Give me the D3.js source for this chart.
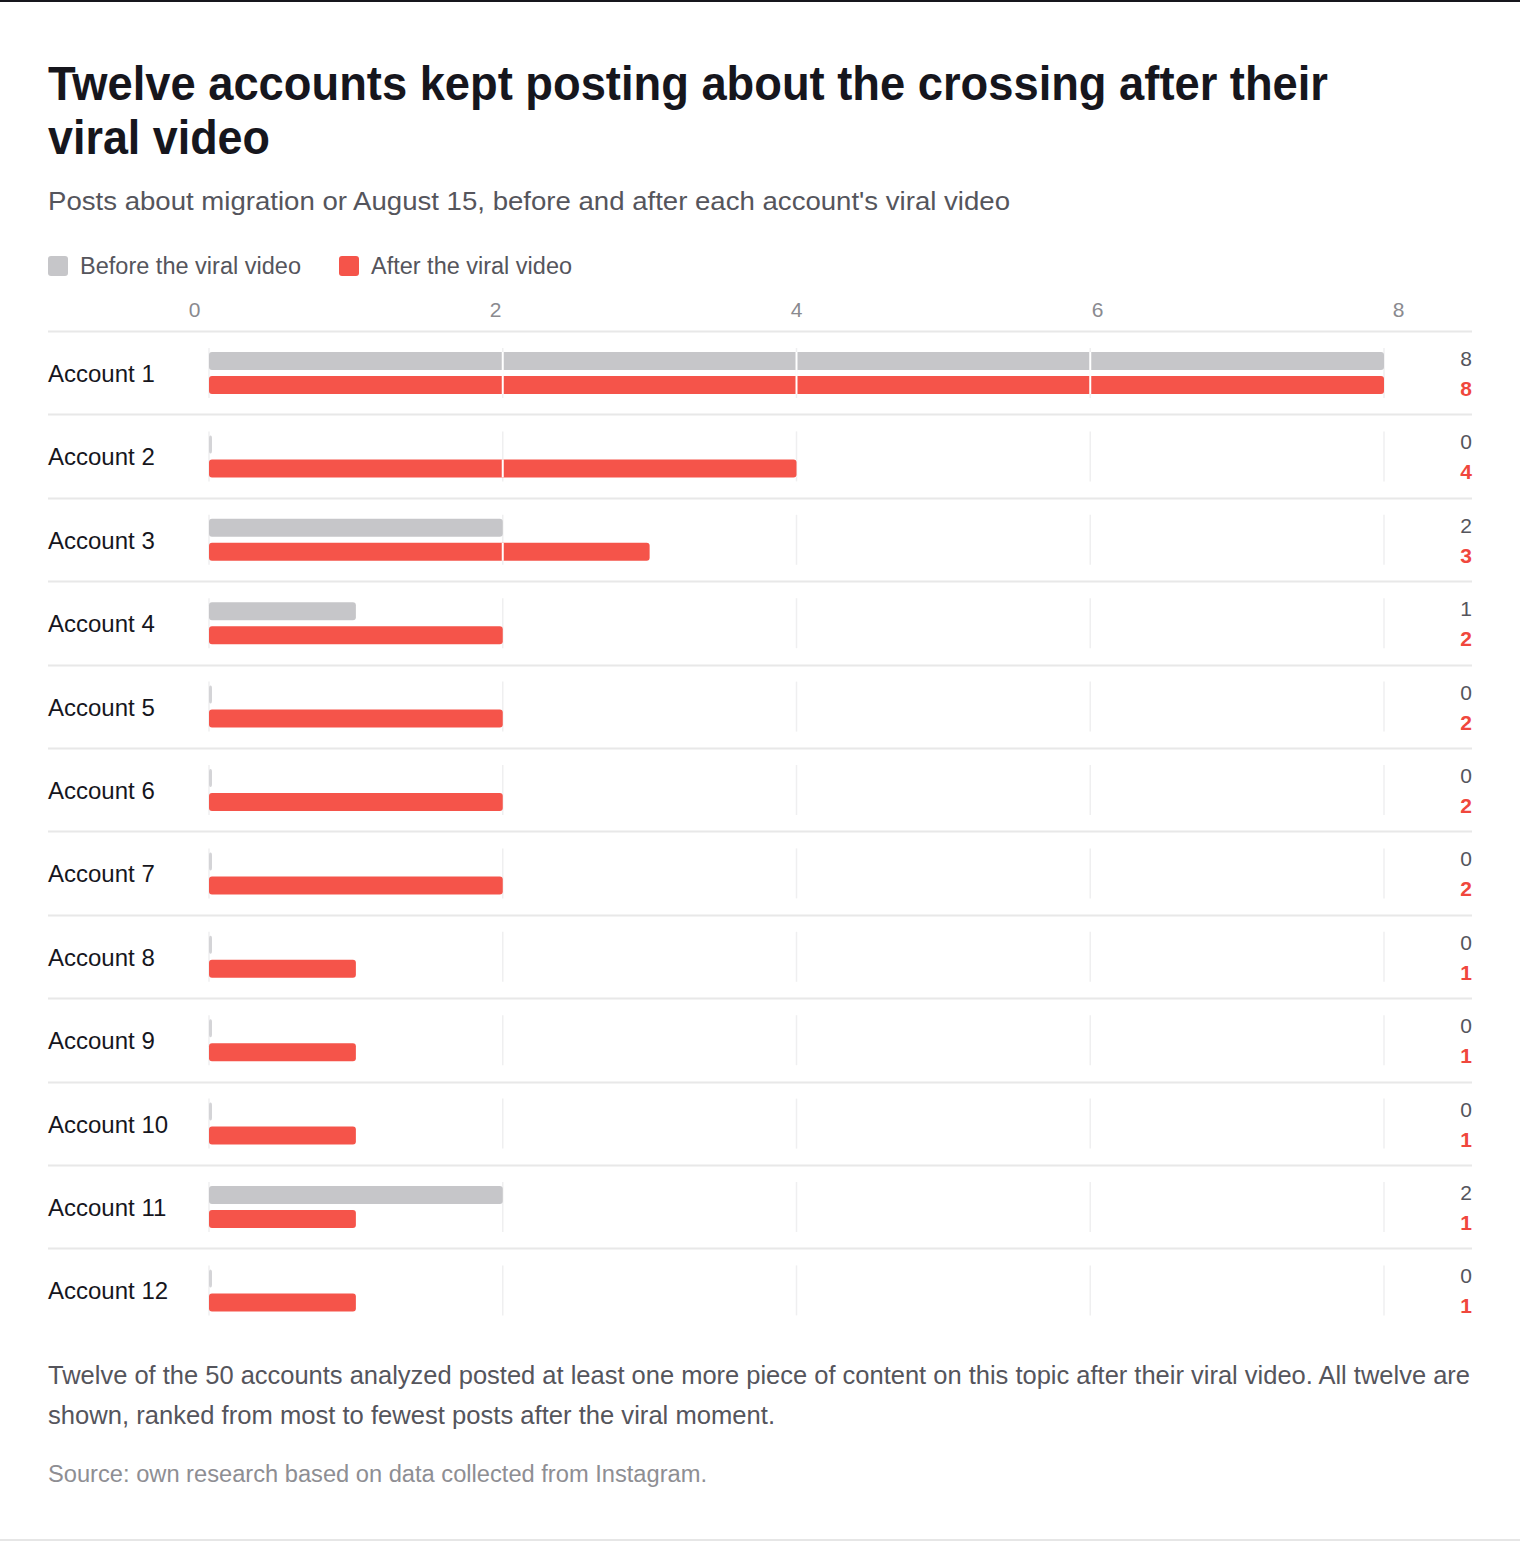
<!DOCTYPE html>
<html>
<head>
<meta charset="utf-8">
<script src="https://cdn.jsdelivr.net/npm/d3@7"></script>
<style>
  body { margin: 0; background: #fff; }
  svg text { font-family: "Liberation Sans", Arial, sans-serif; }
</style>
</head>
<body>
<script>
var width = 1520,
    height = 1542;

// data
var accounts = ['Account 1', 'Account 2', 'Account 3', 'Account 4', 'Account 5', 'Account 6',
                'Account 7', 'Account 8', 'Account 9', 'Account 10', 'Account 11', 'Account 12'];
var beforeValues = [8, 0, 2, 1, 0, 0, 0, 0, 0, 0, 2, 0];
var afterValues  = [8, 4, 3, 2, 2, 2, 2, 1, 1, 1, 1, 1];
var axisTicks = [0, 2, 4, 6, 8];
var seriesNames = ['Before the viral video', 'After the viral video'];
var seriesKeys = ['before', 'after'];

var titleLines = ['Twelve accounts kept posting about the crossing after their', 'viral video'];
var subtitle = "Posts about migration or August 15, before and after each account's viral video";
var noteLines = ['Twelve of the 50 accounts analyzed posted at least one more piece of content on this topic after their viral video. All twelve are',
                 'shown, ranked from most to fewest posts after the viral moment.'];
var source = 'Source: own research based on data collected from Instagram.';

var colors = { before: '#c6c6c9', after: '#f5544a' };
var valueColors = { before: '#55555c', after: '#f0473d' };

var rows = accounts.map(function (a, i) {
    return { name: a, before: beforeValues[i], after: afterValues[i] };
});

var svg = d3.select('body').append('svg')
    .attr('width', width)
    .attr('height', height);

// frame lines
svg.append('rect').attr('x', 0).attr('y', 0).attr('width', width).attr('height', 2).attr('fill', '#16161d');
svg.append('rect').attr('x', 0).attr('y', height - 3).attr('width', width).attr('height', 2).attr('fill', '#e6e6e6');

// title
svg.append('g').selectAll('text')
    .data(titleLines)
    .enter().append('text')
    .attr('x', 48)
    .attr('y', function (d, i) { return 100 + i * 54; })
    .attr('font-size', 48)
    .attr('font-weight', 700)
    .attr('fill', '#16161d')
    .attr('textLength', function (d, i) { return i === 0 ? 1280 : 222; })
    .attr('lengthAdjust', 'spacingAndGlyphs')
    .text(function (d) { return d; });

svg.append('text')
    .attr('x', 48).attr('y', 210)
    .attr('font-size', 26)
    .attr('fill', '#55555c')
    .attr('textLength', 962)
    .attr('lengthAdjust', 'spacingAndGlyphs')
    .text(subtitle);

// legend
var legendX = [48, 339];
var legendW = [221, 201];
var legend = svg.append('g').selectAll('g')
    .data(seriesKeys)
    .enter().append('g')
    .attr('transform', function (d, i) { return 'translate(' + legendX[i] + ',256)'; });
legend.append('rect')
    .attr('width', 20).attr('height', 20).attr('rx', 3)
    .attr('fill', function (d) { return colors[d]; });
legend.append('text')
    .attr('x', 32).attr('y', 18)
    .attr('font-size', 23)
    .attr('fill', '#55555c')
    .attr('textLength', function (d, i) { return legendW[i]; })
    .attr('lengthAdjust', 'spacingAndGlyphs')
    .text(function (d, i) { return seriesNames[i]; });

// scales
var x = d3.scaleLinear().domain([0, 8]).range([209, 1384]);
var xLabel = d3.scaleLinear().domain([0, 8]).range([194, 1398]);
var y = d3.scaleBand().domain(accounts).range([331, 331 + 12 * 83.4]);
var sub = d3.scaleBand().domain(seriesKeys).range([21, 63]).paddingInner(0.25);

// top axis labels
var axis = d3.axisTop(xLabel).tickValues(axisTicks).tickSize(0).tickPadding(0);
var axisG = svg.append('g').attr('transform', 'translate(0,317)').call(axis);
axisG.select('.domain').remove();
axisG.selectAll('text')
    .attr('font-size', 21)
    .attr('font-family', '"Liberation Sans", Arial, sans-serif')
    .attr('fill', '#8a8a8f')
    .attr('dy', 0);

// row separators
svg.append('g').selectAll('line')
    .data(accounts)
    .enter().append('line')
    .attr('x1', 48).attr('x2', 1472)
    .attr('y1', function (d) { return Math.round(y(d)) + 0.5; })
    .attr('y2', function (d) { return Math.round(y(d)) + 0.5; })
    .attr('stroke', '#e8e8e8')
    .attr('stroke-width', 2);

var row = svg.append('g').selectAll('g')
    .data(rows)
    .enter().append('g')
    .attr('transform', function (d) { return 'translate(0,' + y(d.name) + ')'; });

// faint grid in each row
row.selectAll('.grid')
    .data(axisTicks)
    .enter().append('line')
    .attr('class', 'grid')
    .attr('x1', function (d) { return x(d); })
    .attr('x2', function (d) { return x(d); })
    .attr('y1', 17).attr('y2', 67)
    .attr('stroke', '#efeff0')
    .attr('stroke-width', 1.5);

// bars
row.selectAll('.bar')
    .data(function (d) { return seriesKeys.map(function (k) { return { key: k, value: d[k] }; }); })
    .enter().append('rect')
    .attr('class', 'bar')
    .attr('x', x(0))
    .attr('y', function (d) { return sub(d.key); })
    .attr('height', sub.bandwidth())
    .attr('width', function (d) { return d.value > 0 ? x(d.value) - x(0) : 3; })
    .attr('rx', 3)
    .attr('fill', function (d) { return d.value > 0 ? colors[d.key] : '#d4d4d7'; });

// white grid lines cutting across the bars
row.selectAll('.cut')
    .data(function (d) {
        return axisTicks.filter(function (t) { return t > 0 && t < Math.max(d.before, d.after); })
            .map(function (t) { return { t: t, before: d.before, after: d.after }; });
    })
    .enter().append('line')
    .attr('class', 'cut')
    .attr('x1', function (d) { return x(d.t); })
    .attr('x2', function (d) { return x(d.t); })
    .attr('y1', function (d) { return d.before > d.t ? sub('before') : sub('after'); })
    .attr('y2', function (d) { return d.after > d.t ? sub('after') + sub.bandwidth() : sub('before') + sub.bandwidth(); })
    .attr('stroke', '#fff')
    .attr('stroke-width', 2);

// account labels
row.append('text')
    .attr('x', 48).attr('y', 51)
    .attr('font-size', 24)
    .attr('fill', '#16161d')
    .text(function (d) { return d.name; });

// value labels
var valueBaseline = { before: 35, after: 65 };
row.selectAll('.val')
    .data(function (d) { return seriesKeys.map(function (k) { return { key: k, value: d[k] }; }); })
    .enter().append('text')
    .attr('class', 'val')
    .attr('x', 1472)
    .attr('y', function (d) { return valueBaseline[d.key]; })
    .attr('text-anchor', 'end')
    .attr('font-size', 21)
    .attr('font-weight', function (d) { return d.key === 'after' ? 700 : 400; })
    .attr('fill', function (d) { return valueColors[d.key]; })
    .text(function (d) { return d.value; });

// notes
svg.append('g').selectAll('text')
    .data(noteLines)
    .enter().append('text')
    .attr('x', 48)
    .attr('y', function (d, i) { return 1384 + i * 40; })
    .attr('font-size', 25)
    .attr('fill', '#55555c')
    .attr('textLength', function (d, i) { return i === 0 ? 1422 : 727; })
    .attr('lengthAdjust', 'spacingAndGlyphs')
    .text(function (d) { return d; });

svg.append('text')
    .attr('x', 48).attr('y', 1482)
    .attr('font-size', 23)
    .attr('fill', '#8e8e93')
    .attr('textLength', 659)
    .attr('lengthAdjust', 'spacingAndGlyphs')
    .text(source);
</script>
</body>
</html>
